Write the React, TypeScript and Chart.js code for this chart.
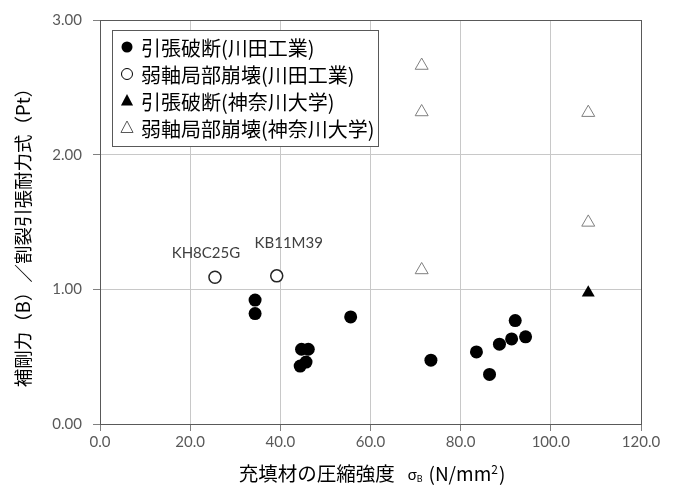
import React, { useEffect, useRef } from "react";
import { Chart, registerables } from "chart.js";

Chart.register(...registerables);

// 引張破断(川田工業)
const tensileKawadaX = [34.4, 34.4, 44.7, 46.2, 45.7, 44.4, 55.6, 73.4, 83.5, 86.4, 88.6, 91.3, 92.1, 94.4];
const tensileKawadaY = [0.92, 0.82, 0.555, 0.555, 0.46, 0.43, 0.795, 0.474, 0.535, 0.368, 0.593, 0.632, 0.768, 0.647];
// 弱軸局部崩壊(川田工業)
const bucklingKawadaX = [25.5, 39.2];
const bucklingKawadaY = [1.09, 1.10];
const bucklingKawadaLabels = ["KH8C25G", "KB11M39"];
// 引張破断(神奈川大学)
const tensileKanagawaX = [108.3];
const tensileKanagawaY = [0.975];
// 弱軸局部崩壊(神奈川大学)
const bucklingKanagawaX = [71.35, 71.35, 71.35, 108.3, 108.3];
const bucklingKanagawaY = [2.662, 2.317, 1.144, 2.312, 1.497];

const seriesNames = [
  "引張破断(川田工業)",
  "弱軸局部崩壊(川田工業)",
  "引張破断(神奈川大学)",
  "弱軸局部崩壊(神奈川大学)",
];
const xTicks = [0, 20, 40, 60, 80, 100, 120];
const yTicks = [0, 1, 2, 3];
const yTitle = "補剛力（B）／割裂引張耐力式（Pt）";
const xTitleMain = "充填材の圧縮強度";

const JP = '"Noto Sans CJK JP", sans-serif';
const LAT = 'Lato, "Noto Sans", sans-serif';

const pts = (xs: number[], ys: number[]) => xs.map((x, i) => ({ x, y: ys[i] }));

export default function App() {
  const ref = useRef<HTMLCanvasElement | null>(null);
  useEffect(() => {
    const canvas = ref.current!;
    const overlay = {
      id: "overlay",
      afterDatasetsDraw(chart: any) {
        const ctx = chart.ctx as CanvasRenderingContext2D;
        const a = chart.chartArea;
        const xs = chart.scales.x;
        const ys = chart.scales.y;
        ctx.save();
        // plot border
        ctx.strokeStyle = "#595959";
        ctx.lineWidth = 1;
        ctx.strokeRect(Math.round(a.left) + 0.5, Math.round(a.top) + 0.5, Math.round(a.right - a.left), Math.round(a.bottom - a.top));

        // point annotations
        ctx.fillStyle = "#404040";
        ctx.font = `15px ${LAT}`;
        ctx.textAlign = "center";
        ctx.textBaseline = "middle";
        const offs = [[-9, -24], [12, -33]];
        bucklingKawadaLabels.forEach((t, i) => {
          const px = xs.getPixelForValue(bucklingKawadaX[i]);
          const py = ys.getPixelForValue(bucklingKawadaY[i]);
          ctx.fillText(t, px + offs[i][0], py + offs[i][1]);
        });

        // legend
        const lx = a.left + 12, ly = a.top + 10, lw = 266, lh = 116;
        ctx.fillStyle = "#ffffff";
        ctx.fillRect(lx, ly, lw, lh);
        ctx.strokeStyle = "#595959";
        ctx.strokeRect(lx + 0.5, ly + 0.5, lw, lh);
        ctx.font = `20px ${JP}`;
        ctx.textAlign = "left";
        ctx.textBaseline = "middle";
        seriesNames.forEach((name, i) => {
          const cy = ly + 17 + i * 27;
          const cx = lx + 15;
          ctx.beginPath();
          if (i < 2) {
            ctx.arc(cx, cy, 5.5, 0, Math.PI * 2);
          } else {
            const r = 7;
            ctx.moveTo(cx, cy - r);
            ctx.lineTo(cx + r * 0.866, cy + r * 0.5 + 1);
            ctx.lineTo(cx - r * 0.866, cy + r * 0.5 + 1);
            ctx.closePath();
          }
          if (i === 0 || i === 2) {
            ctx.fillStyle = "#000";
            ctx.fill();
          } else {
            ctx.fillStyle = "#fff";
            ctx.fill();
            ctx.strokeStyle = i === 1 ? "#000" : "#595959";
            ctx.lineWidth = 1;
            ctx.stroke();
          }
          ctx.fillStyle = "#000";
          ctx.fillText(name, cx + 14, cy + 1);
        });

        // y title
        ctx.save();
        ctx.translate(23, 233);
        ctx.rotate(-Math.PI / 2);
        ctx.font = `18.5px ${JP}`;
        ctx.fillStyle = "#000";
        ctx.textAlign = "center";
        ctx.textBaseline = "middle";
        ctx.fillText(yTitle, 0, 0);
        ctx.restore();

        // x title
        const parts: [string, string, number, number][] = [
          [xTitleMain, `19.5px ${JP}`, 0, 13],
          ["σ", `15px ${LAT}`, 1, 0],
          ["B", `9px ${LAT}`, 5, 6],
          ["(N/mm", `19px ${JP}`, 0, 0],
          ["2", `12px ${JP}`, -5, 1],
          [")", `19px ${JP}`, 0, 0],
        ];
        let total = 0;
        parts.forEach(([t, f, , g]) => { ctx.font = f; total += ctx.measureText(t).width + g; });
        let x = 372 - total / 2;
        const ty = 474;
        ctx.fillStyle = "#000";
        ctx.textAlign = "left";
        ctx.textBaseline = "middle";
        parts.forEach(([t, f, dy, g]) => {
          ctx.font = f;
          ctx.fillText(t, x, ty + dy);
          x += ctx.measureText(t).width + g;
        });
        ctx.restore();
      },
    };

    const chart = new Chart(canvas, {
      type: "scatter",
      data: {
        datasets: [
          {
            label: seriesNames[0],
            data: pts(tensileKawadaX, tensileKawadaY),
            pointStyle: "circle",
            pointRadius: 6.5,
            backgroundColor: "#000",
            borderColor: "#000",
            borderWidth: 0,
          },
          {
            label: seriesNames[1],
            data: pts(bucklingKawadaX, bucklingKawadaY),
            pointStyle: "circle",
            pointRadius: 6,
            backgroundColor: "#fff",
            borderColor: "#262626",
            borderWidth: 1.5,
          },
          {
            label: seriesNames[2],
            data: pts(tensileKanagawaX, tensileKanagawaY),
            pointStyle: "triangle",
            pointRadius: 7.5,
            backgroundColor: "#000",
            borderColor: "#000",
            borderWidth: 0,
          },
          {
            label: seriesNames[3],
            data: pts(bucklingKanagawaX, bucklingKanagawaY),
            pointStyle: "triangle",
            pointRadius: 7.5,
            backgroundColor: "#fff",
            borderColor: "#7f7f7f",
            borderWidth: 1,
          },
        ],
      },
      options: {
        animation: false,
        responsive: false,
        devicePixelRatio: 1,
        events: [],
        layout: { padding: { left: 0, top: 19, right: 34, bottom: 0 } },
        plugins: { legend: { display: false }, tooltip: { enabled: false }, title: { display: false } },
        scales: {
          x: {
            type: "linear",
            min: 0,
            max: 120,
            afterFit: (s: any) => { s.height = 65; },
            afterBuildTicks: (s: any) => { s.ticks = xTicks.map((v) => ({ value: v })); },
            ticks: {
              callback: (v: any) => Number(v).toFixed(1),
              font: { family: LAT, size: 15 },
              color: "#595959",
              padding: 2,
              maxRotation: 0,
            },
            grid: { color: "#c8c8c8", tickColor: "#808080", tickLength: 7, lineWidth: 1 },
            border: { display: false },
          },
          y: {
            type: "linear",
            min: 0,
            max: 3,
            afterFit: (s: any) => { s.width = 100; },
            afterBuildTicks: (s: any) => { s.ticks = yTicks.map((v) => ({ value: v })); },
            ticks: {
              callback: (v: any) => Number(v).toFixed(2),
              font: { family: LAT, size: 15 },
              color: "#595959",
              padding: 11,
            },
            grid: { color: "#c8c8c8", tickColor: "#808080", tickLength: 7, lineWidth: 1 },
            border: { display: false },
          },
        },
      },
      plugins: [overlay],
    } as any);
    return () => chart.destroy();
  }, []);
  return (
    <div style={{ position: "absolute", left: 0, top: 0, width: 675, height: 489, background: "#fff" }}>
      <canvas ref={ref} width={675} height={489} style={{ display: "block" }} />
    </div>
  );
}
